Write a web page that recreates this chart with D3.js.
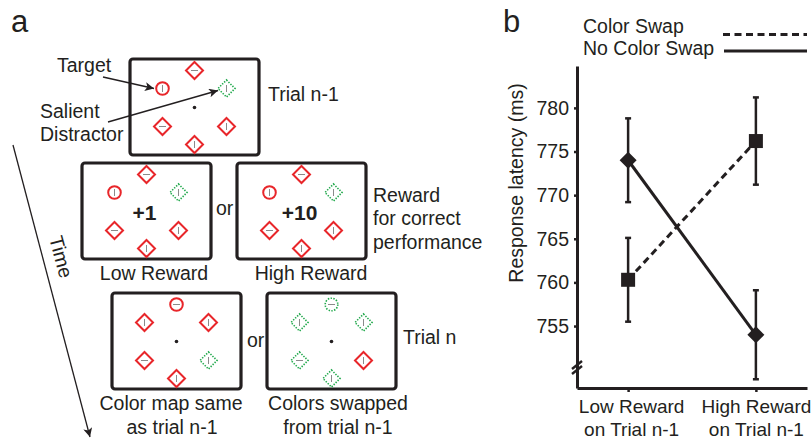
<!DOCTYPE html>
<html><head><meta charset="utf-8">
<script src="https://cdn.jsdelivr.net/npm/d3@7"></script>
<style>
html,body{margin:0;padding:0;background:#fff;}
svg{display:block;font-family:"Liberation Sans",Arial,sans-serif;}
</style></head>
<body>
<svg id="fig" width="811" height="442"></svg>
<script>
// ---------- Panel b data ----------
const categories = ["Low Reward|on Trial n-1", "High Reward|on Trial n-1"];
const seriesNames = ["Color Swap", "No Color Swap"];
const colorSwap = [760.3, 776.2];
const colorSwapErr = [4.8, 5.0];
const noColorSwap = [774.0, 754.0];
const noColorSwapErr = [4.8, 5.1];
const yTicks = [755, 760, 765, 770, 775, 780];
const yDomain = [747.9, 784.8];

// ---------- Panel a data ----------
// positions in the display: top, upper-left, upper-right, lower-left, lower-right, bottom
const slotNames = ["top", "ul", "ur", "ll", "lr", "bot"];
// stimuli per frame: shape (d = diamond, c = circle), colour (r = red, g = green), inner bar (v / h)
const frame1Stim = ["d r h", "c r v", "d g v", "d r h", "d r v", "d r v"];
const frame2Stim = ["d r h", "c r v", "d g v", "d r h", "d r v", "d r v"];
const frame3Stim = ["d r h", "c r v", "d g v", "d r h", "d r v", "d r v"];
const frame4Stim = ["c r h", "d r v", "d r v", "d r h", "d g v", "d r v"];
const frame5Stim = ["c g h", "d g v", "d g v", "d g h", "d r v", "d g v"];
const rewardTexts = ["+1", "+10"];

const svg = d3.select("#fig");
const ink = "#231f20";
const red = "#e8262a";
const green = "#1fa84a";

// ================= PANEL A =================
svg.append("text").attr("x", 11).attr("y", 32).attr("font-size", 31).attr("fill", ink).text("a");

const FW = 129, FH = 96;
const slotOff = {top:[0,-37], ul:[-32,-19], ur:[32,-19], ll:[-32,19], lr:[32,19], bot:[0,37]};

function drawFrame(x0, y0, stim, reward) {
  const g = svg.append("g");
  g.append("rect").attr("x", x0).attr("y", y0).attr("width", FW).attr("height", FH)
    .attr("rx", 3).attr("fill", "none").attr("stroke", ink).attr("stroke-width", 3.2);
  const cx = x0 + FW/2, cy = y0 + FH/2 + 0.5;
  if (!reward) g.append("circle").attr("cx", cx).attr("cy", cy).attr("r", 1.8).attr("fill", ink);
  stim.forEach((s, i) => {
    const [shape, col, bar] = s.split(" ");
    const [dx, dy] = slotOff[slotNames[i]];
    const px = cx + dx, py = cy + dy;
    const c = col === "r" ? red : green;
    const dotted = col === "g";
    let el;
    if (shape === "d") {
      const h = 8.5;
      el = g.append("path").attr("d", `M${px},${py-h}L${px+h},${py}L${px},${py+h}L${px-h},${py}Z`);
    } else {
      el = g.append("circle").attr("cx", px).attr("cy", py).attr("r", 6.3);
    }
    el.attr("fill", "#fff").attr("stroke", c).attr("stroke-width", dotted ? 1.6 : 2)
      .attr("stroke-dasharray", dotted ? "1.4,1.4" : null);
    const L = 3.5;
    if (bar === "v") g.append("line").attr("x1", px).attr("x2", px).attr("y1", py-L).attr("y2", py+L);
    else g.append("line").attr("x1", px-L).attr("x2", px+L).attr("y1", py).attr("y2", py);
    g.selectAll("line").attr("stroke", "#8a8a8a").attr("stroke-width", 1);
  });
  if (reward) {
    g.append("text").attr("x", cx - 2).attr("y", cy + 8).attr("text-anchor", "middle")
      .attr("font-size", 21).attr("font-weight", "bold").attr("fill", ink).text(reward);
  }
}

drawFrame(130, 59, frame1Stim, null);
drawFrame(82, 163, frame2Stim, rewardTexts[0]);
drawFrame(237, 163, frame3Stim, rewardTexts[1]);
drawFrame(112, 293, frame4Stim, null);
drawFrame(267, 293, frame5Stim, null);

// arrowhead marker
const defs = svg.append("defs");
defs.append("marker").attr("id", "ah").attr("viewBox", "0 0 10 10").attr("refX", 10).attr("refY", 5)
  .attr("markerWidth", 13).attr("markerHeight", 9).attr("markerUnits", "userSpaceOnUse").attr("orient", "auto")
  .append("path").attr("d", "M0,0L10,5L0,10L2.5,5Z").attr("fill", ink);
defs.append("marker").attr("id", "ah2").attr("viewBox", "0 0 10 10").attr("refX", 10).attr("refY", 5)
  .attr("markerWidth", 16).attr("markerHeight", 9).attr("markerUnits", "userSpaceOnUse").attr("orient", "auto")
  .append("path").attr("d", "M0,0L10,5L0,10L2.5,5Z").attr("fill", ink);

const tA = {font: 19.5};
function label(x, y, t, anchor, size, weight) {
  return svg.append("text").attr("x", x).attr("y", y).attr("text-anchor", anchor || "start")
    .attr("font-size", size || tA.font).attr("font-weight", weight || "normal").attr("fill", ink).text(t);
}
label(57, 72, "Target");
label(40, 118, "Salient");
label(40, 141, "Distractor");
svg.append("line").attr("x1", 103).attr("y1", 77).attr("x2", 154).attr("y2", 88.5)
  .attr("stroke", ink).attr("stroke-width", 1.4).attr("marker-end", "url(#ah)");
svg.append("line").attr("x1", 108).attr("y1", 122).attr("x2", 218).attr("y2", 90.5)
  .attr("stroke", ink).attr("stroke-width", 1.4).attr("marker-end", "url(#ah)");
label(268, 101, "Trial n-1");
label(216, 215, "or");
label(373, 202, "Reward");
label(373, 225, "for correct");
label(373, 249, "performance");
label(154, 280, "Low Reward", "middle");
label(311, 280, "High Reward", "middle");
label(247, 347, "or");
label(403, 344, "Trial n");
label(171, 410, "Color map same", "middle");
label(172, 434, "as trial n-1", "middle");
label(338, 410, "Colors swapped", "middle");
label(338, 434, "from trial n-1", "middle");

// time arrow
svg.append("line").attr("x1", 13).attr("y1", 145).attr("x2", 90).attr("y2", 437)
  .attr("stroke", ink).attr("stroke-width", 1.3).attr("marker-end", "url(#ah2)");
svg.append("text").attr("transform", "translate(49,238) rotate(75)")
  .attr("font-size", tA.font).attr("fill", ink).text("Time");

// ================= PANEL B =================
svg.append("text").attr("x", 503).attr("y", 32).attr("font-size", 31).attr("fill", ink).text("b");

const y = d3.scaleLinear().domain(yDomain).range([388, 66]);
const x = d3.scalePoint().domain(categories).range([577, 807]).padding(0.4);

const yAxis = svg.append("g").attr("transform", "translate(577,0)")
  .call(d3.axisLeft(y).tickValues(yTicks).tickSize(3).tickSizeOuter(0).tickPadding(5).tickFormat(d3.format("d")));
yAxis.select(".domain").attr("stroke", ink).attr("stroke-width", 3);
yAxis.selectAll(".tick line").attr("stroke", ink).attr("stroke-width", 2.5);
yAxis.selectAll(".tick text").attr("font-size", 19.5).attr("fill", ink).attr("font-family", "Liberation Sans, Arial, sans-serif");

const xAxis = svg.append("g").attr("transform", "translate(0,388)")
  .call(d3.axisBottom(x).tickSize(4).tickSizeOuter(0).tickPadding(8));
xAxis.select(".domain").attr("stroke", ink).attr("stroke-width", 3);
xAxis.selectAll(".tick line").attr("stroke", ink).attr("stroke-width", 2.5);
const xLabelShift = [3, 0];
xAxis.selectAll(".tick text").each(function(d, k) {
  const t = d3.select(this).text("").attr("font-size", 19).attr("fill", ink)
    .attr("font-family", "Liberation Sans, Arial, sans-serif").attr("dy", null).attr("y", 25);
  d.split("|").forEach((s, i) => t.append("tspan").attr("x", xLabelShift[k]).attr("y", 25 + i * 23).text(s));
});

// axis break
[[0], [5]].forEach(([o]) => {
  svg.append("line").attr("x1", 572).attr("y1", 369 + o).attr("x2", 582).attr("y2", 361 + o)
    .attr("stroke", ink).attr("stroke-width", 2.5);
});

// error bars
function errBars(vals, errs) {
  vals.forEach((v, i) => {
    const cx = x(categories[i]);
    svg.append("line").attr("x1", cx).attr("x2", cx).attr("y1", y(v - errs[i])).attr("y2", y(v + errs[i]))
      .attr("stroke", ink).attr("stroke-width", 2.5);
    [v - errs[i], v + errs[i]].forEach(e => svg.append("line").attr("x1", cx - 3).attr("x2", cx + 3)
      .attr("y1", y(e)).attr("y2", y(e)).attr("stroke", ink).attr("stroke-width", 2.5));
  });
}
errBars(colorSwap, colorSwapErr);
errBars(noColorSwap, noColorSwapErr);

const line = d3.line().x((d, i) => x(categories[i])).y(d => y(d));
svg.append("path").datum(colorSwap).attr("d", line).attr("fill", "none").attr("stroke", ink)
  .attr("stroke-width", 3).attr("stroke-dasharray", "7,4.5");
svg.append("path").datum(noColorSwap).attr("d", line).attr("fill", "none").attr("stroke", ink)
  .attr("stroke-width", 3);

// markers
colorSwap.forEach((v, i) => {
  svg.append("rect").attr("x", x(categories[i]) - 7).attr("y", y(v) - 7).attr("width", 14).attr("height", 14).attr("fill", ink);
});
noColorSwap.forEach((v, i) => {
  const cx = x(categories[i]), cy = y(v), h = 8.5;
  svg.append("path").attr("d", `M${cx},${cy-h}L${cx+h},${cy}L${cx},${cy+h}L${cx-h},${cy}Z`).attr("fill", ink);
});

// legend
label(583, 33, seriesNames[0]);
label(583, 55, seriesNames[1]);
svg.append("line").attr("x1", 723).attr("x2", 807).attr("y1", 34.5).attr("y2", 34.5)
  .attr("stroke", ink).attr("stroke-width", 3).attr("stroke-dasharray", "7,4.5");
svg.append("line").attr("x1", 724).attr("x2", 807).attr("y1", 51).attr("y2", 51)
  .attr("stroke", ink).attr("stroke-width", 3);

// y label
svg.append("text").attr("transform", "translate(523,183) rotate(-90)").attr("text-anchor", "middle")
  .attr("font-size", 19.5).attr("fill", ink).text("Response latency (ms)");
</script>
</body></html>
